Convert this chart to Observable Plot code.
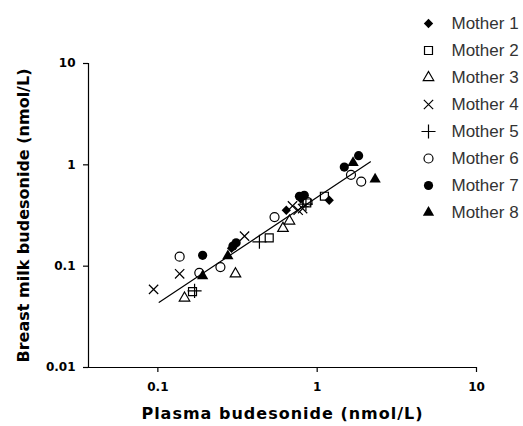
<!DOCTYPE html>
<html>
<head>
<meta charset="utf-8">
<script src="https://cdn.jsdelivr.net/npm/d3@7"></script>
<script src="https://cdn.jsdelivr.net/npm/@observablehq/plot@0.6"></script>
<style>
  html, body { margin: 0; padding: 0; background: #fff; }
  #wrap { position: relative; width: 523px; height: 426px; }
  #legend { position: absolute; left: 410px; top: 0px; }
</style>
</head>
<body>
<div id="wrap"><div id="chart"></div><div id="legend"></div></div>
<script>
// ---- data ----
const mothers = ["Mother 1","Mother 2","Mother 3","Mother 4","Mother 5","Mother 6","Mother 7","Mother 8"];

const mother1 = [[0.29,0.15],[0.64,0.356],[0.79,0.46],[1.19,0.447]];
const mother2 = [[0.165,0.056],[0.50,0.19],[0.86,0.42],[1.11,0.49]];
const mother3 = [[0.147,0.0485],[0.307,0.084],[0.61,0.236],[0.67,0.279]];
const mother4 = [[0.094,0.059],[0.137,0.084],[0.35,0.198],[0.70,0.393],[0.76,0.356],[0.81,0.37]];
const mother5 = [[0.17,0.057],[0.434,0.174],[0.85,0.41]];
const mother6 = [[0.137,0.124],[0.182,0.086],[0.247,0.098],[0.54,0.305],[0.87,0.43],[1.63,0.796],[1.89,0.684]];
const mother7 = [[0.191,0.128],[0.296,0.158],[0.31,0.17],[0.774,0.49],[0.83,0.50],[1.48,0.95],[1.82,1.23]];
const mother8 = [[0.191,0.080],[0.275,0.126],[1.68,1.05],[2.31,0.722]];
const series = [mother1,mother2,mother3,mother4,mother5,mother6,mother7,mother8];

const fitX = [0.102, 2.16];
const fitY = [0.044, 1.07];

const xTicks = [0.1, 1, 10];
const yTicks = [0.01, 0.1, 1, 10];
const xDomain = [0.0367, 10];
const yDomain = [0.01, 10];
const xTitle = "Plasma budesonide (nmol/L)";
const yTitle = "Breast milk budesonide (nmol/L)";

// ---- styles per series ----
const symbols = ["diamond2","square","triangle","times","plus","circle","circle","triangle"];
const filled  = [true,false,false,false,false,false,true,true];
const radii   = [4.2,4.5,3.9,4.3,4.6,4.5,4.6,4.2];

const symbolDot = (data, i, opts) => filled[i]
  ? Plot.dot(data, {...opts, symbol: symbols[i], r: radii[i], fill: "black", stroke: "none"})
  : Plot.dot(data, {...opts, symbol: symbols[i], r: radii[i], fill: "none", stroke: "black", strokeWidth: 1.2});

const fit = fitX.map((x, i) => ({x, y: fitY[i]}));

const chart = Plot.plot({
  width: 523, height: 426,
  marginLeft: 88, marginRight: 47, marginTop: 63, marginBottom: 59,
  style: {fontFamily: "DejaVu Sans", fontWeight: "bold", fontSize: "12px", color: "black", background: "white"},
  x: {type: "log", domain: xDomain},
  y: {type: "log", domain: yDomain},
  marks: [
    Plot.axisX({ticks: xTicks, tickFormat: d => String(d), tickSize: 5, tickPadding: 10, label: null, strokeWidth: 1.2}),
    Plot.axisY({ticks: yTicks, tickFormat: d => String(d), tickSize: 5, tickPadding: 8, label: null, strokeWidth: 1.2}),
    Plot.ruleY([yDomain[0]], {strokeWidth: 1.2}),
    Plot.ruleX([xDomain[0]], {strokeWidth: 1.2}),
    Plot.line(fit, {x: "x", y: "y", stroke: "black", strokeWidth: 1.2}),
    ...series.map((s, i) => symbolDot(s, i, {x: d => d[0], y: d => d[1]})),
    Plot.text([xTitle], {frameAnchor: "bottom", dy: 51, textAnchor: "middle", fontSize: 16, fontWeight: "bold", fill: "black"}),
    Plot.text([yTitle], {frameAnchor: "left", dx: -65, rotate: -90, textAnchor: "middle", fontSize: 16, fontWeight: "bold", fill: "black"})
  ]
});
d3.select(chart).selectAll("text").filter(function() { return this.textContent === xTitle; }).attr("letter-spacing", "1px");
document.getElementById("chart").appendChild(chart);

const legend = Plot.plot({
  width: 113, height: 226,
  margin: 0,
  style: {fontFamily: "Liberation Sans", fontSize: "17px", background: "transparent"},
  y: {type: "point", domain: mothers, range: [21.7, 213], padding: 0, axis: null},
  marks: [
    ...mothers.map((m, i) => symbolDot([m], i, {y: d => d, frameAnchor: "left", dx: 18, r: radii[i] * 0.9})),
    Plot.text(mothers, {y: d => d, text: d => d, frameAnchor: "left", dx: 41, textAnchor: "start", fill: "#333", fontSize: 17})
  ]
});
document.getElementById("legend").appendChild(legend);
</script>
</body>
</html>
